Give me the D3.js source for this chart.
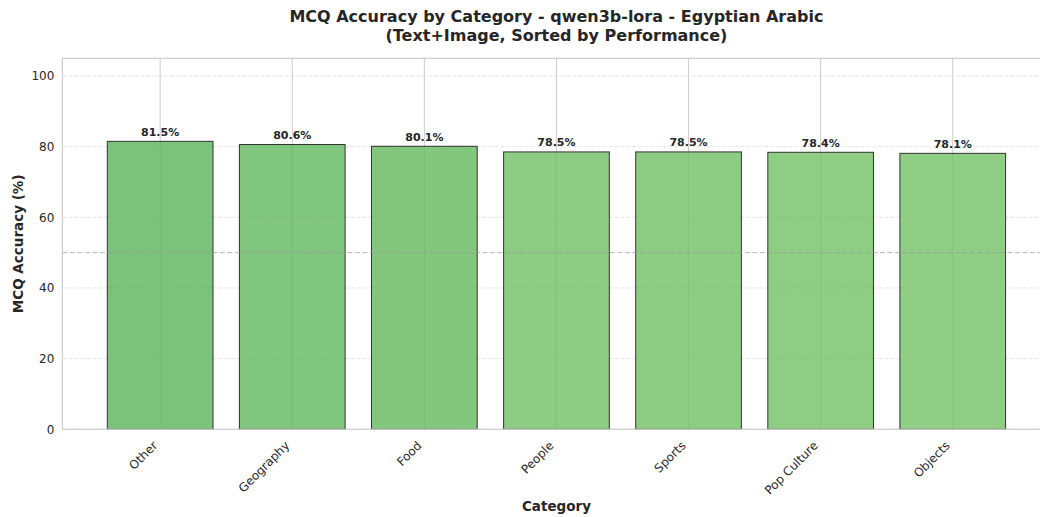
<!DOCTYPE html>
<html>
<head>
<meta charset="utf-8">
<title>MCQ Accuracy by Category</title>
<script src="https://d3js.org/d3.v7.min.js"></script>
<style>
    body { margin: 0; background: #fff; }
    text { font-family: "DejaVu Sans", sans-serif; fill: #262626; }
    .title { font-size: 16px; font-weight: bold; }
    .axis-label { font-size: 13.5px; font-weight: bold; }
    .tick-label { font-size: 12px; }
    .bar-label { font-size: 11px; font-weight: bold; }
</style>
</head>
<body>
<svg width="1040" height="517"></svg>
<script>

    // data (sorted by performance)
    var categories = ["Other", "Geography", "Food", "People", "Sports", "Pop Culture", "Objects"];
    var accuracy = [81.5, 80.6, 80.1, 78.5, 78.5, 78.4, 78.1];
    var yTicks = [0, 20, 40, 60, 80, 100];

    var svg = d3.select("svg");

    var plotLeft = 62.4, plotRight = 1050.5, plotTop = 58.3, plotBottom = 429.3;

    var x = d3.scaleLinear().domain([-0.74, categories.length - 1 + 0.74]).range([plotLeft, plotRight]);
    var y = d3.scaleLinear().domain([0, 105]).range([plotBottom, plotTop]);

    var color = d3.scaleLinear()
        .domain([d3.min(accuracy), d3.max(accuracy)])
        .range(["#74c266", "#5bb55c"]);

    // horizontal dashed grid
    svg.append("g").selectAll("line")
        .data(yTicks)
        .enter().append("line")
        .attr("x1", plotLeft).attr("x2", plotRight)
        .attr("y1", function(d) { return y(d); })
        .attr("y2", function(d) { return y(d); })
        .attr("stroke", "#cccccc")
        .attr("stroke-opacity", 0.5)
        .attr("stroke-dasharray", "4,2");

    // vertical grid at each category
    svg.append("g").selectAll("line")
        .data(categories)
        .enter().append("line")
        .attr("x1", function(d, i) { return x(i); })
        .attr("x2", function(d, i) { return x(i); })
        .attr("y1", plotTop).attr("y2", plotBottom)
        .attr("stroke", "#cccccc")
        .attr("stroke-width", 1);

    // bars
    svg.append("g").selectAll("rect")
        .data(accuracy)
        .enter().append("rect")
        .attr("x", function(d, i) { return x(i - 0.4); })
        .attr("width", x(0.4) - x(-0.4))
        .attr("y", function(d) { return y(d); })
        .attr("height", function(d) { return y(0) - y(d); })
        .attr("fill", function(d) { return color(d); })
        .attr("stroke", "#000")
        .attr("stroke-width", 1)
        .attr("opacity", 0.8);

    // 50% reference line
    svg.append("line")
        .attr("x1", plotLeft).attr("x2", plotRight)
        .attr("y1", y(50)).attr("y2", y(50))
        .attr("stroke", "#999")
        .attr("stroke-opacity", 0.7)
        .attr("stroke-dasharray", "5,2.5");

    // spines
    svg.append("rect")
        .attr("x", plotLeft).attr("y", plotTop)
        .attr("width", plotRight - plotLeft).attr("height", plotBottom - plotTop)
        .attr("fill", "none")
        .attr("stroke", "#cccccc")
        .attr("stroke-width", 1.2);

    // value labels
    svg.append("g").selectAll("text")
        .data(accuracy)
        .enter().append("text")
        .attr("class", "bar-label")
        .attr("x", function(d, i) { return x(i); })
        .attr("y", function(d) { return y(d) - 5.5; })
        .attr("text-anchor", "middle")
        .text(function(d) { return d.toFixed(1) + "%"; });

    // y tick labels
    svg.append("g").selectAll("text")
        .data(yTicks)
        .enter().append("text")
        .attr("class", "tick-label")
        .attr("x", plotLeft - 8)
        .attr("y", function(d) { return y(d); })
        .attr("dy", "0.35em")
        .attr("text-anchor", "end")
        .text(function(d) { return d; });

    // x tick labels, rotated
    svg.append("g").selectAll("text")
        .data(categories)
        .enter().append("text")
        .attr("class", "tick-label")
        .attr("text-anchor", "end")
        .attr("transform", function(d, i) {
            return "translate(" + (x(i) - 2) + "," + (plotBottom + 17) + ") rotate(-45)";
        })
        .text(function(d) { return d; });

    // axis labels
    svg.append("text")
        .attr("class", "axis-label")
        .attr("x", (plotLeft + plotRight) / 2)
        .attr("y", 511)
        .attr("text-anchor", "middle")
        .text("Category");

    svg.append("text")
        .attr("class", "axis-label")
        .attr("text-anchor", "middle")
        .attr("transform", "translate(23," + (plotTop + plotBottom) / 2 + ") rotate(-90)")
        .text("MCQ Accuracy (%)");

    // title
    var title = svg.append("text")
        .attr("class", "title")
        .attr("text-anchor", "middle");
    title.append("tspan")
        .attr("x", (plotLeft + plotRight) / 2).attr("y", 22)
        .text("MCQ Accuracy by Category - qwen3b-lora - Egyptian Arabic");
    title.append("tspan")
        .attr("x", (plotLeft + plotRight) / 2).attr("y", 41)
        .text("(Text+Image, Sorted by Performance)");

</script>
</body>
</html>
